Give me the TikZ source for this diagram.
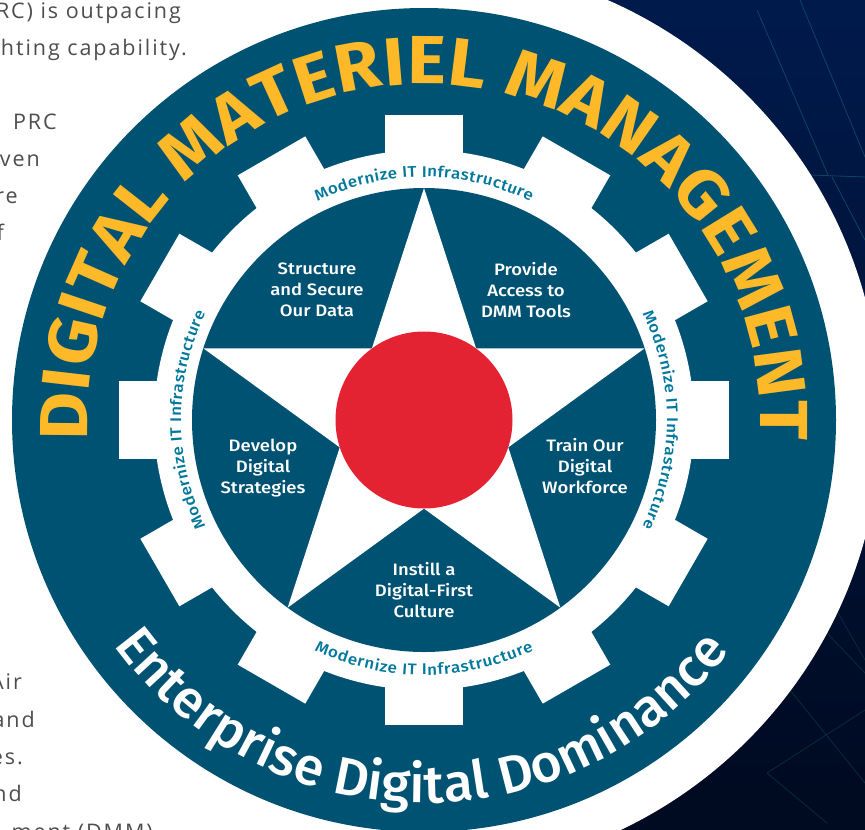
\documentclass[tikz,border=0pt]{standalone}
\usepackage{fontspec}
\usetikzlibrary{decorations.text}
\newfontfamily\bodyf[LetterSpace=9]{Open Sans}
\newfontfamily\ttlf[FakeStretch=1.08]{Fira Sans}
\newfontfamily\subf[FakeStretch=1.015]{Fira Sans Medium}
\newfontfamily\modf[FakeStretch=1.1]{Fira Sans Medium}
\newfontfamily\goalf[FakeStretch=1.12]{Fira Sans Medium}
\definecolor{dmmblue}{HTML}{005272}
\definecolor{dmmgold}{HTML}{FDB927}
\definecolor{dmmred}{HTML}{E32232}
\definecolor{dmmteal}{HTML}{00789C}
\definecolor{dmmgrey}{HTML}{4D4D4D}
\definecolor{navytop}{HTML}{001A4C}
\definecolor{navybot}{HTML}{000A20}
\definecolor{gridtop}{HTML}{0B4468}
\definecolor{gridbot}{HTML}{0A2A38}
\def\ttlstyle{\ttlf\bfseries\fontsize{68}{68}\selectfont\color{dmmgold}}
\def\substyle{\subf\fontsize{53}{53}\selectfont\color{white}}
\def\modstyle{\modf\fontsize{15.5}{15.5}\selectfont\color{dmmteal}}
\tikzset{
  x=1pt,y=1pt,
  bodytext/.style={anchor=base east,inner sep=0pt,text=dmmgrey,font=\bodyf\fontsize{21.5}{21.5}\selectfont},
  goal/.style={align=center,inner sep=0pt,text=white,font=\goalf\fontsize{16.5}{21}\selectfont},
  tooth/.style={fill=white},
}
\begin{document}
\begin{tikzpicture}
\useasboundingbox (0,0) rectangle (865,-830);
\clip (0,0) rectangle (865,-830);
% background
\shade[top color=navytop,bottom color=navybot] (430,0) rectangle (865,-830);
\draw[gridtop,line width=.8pt] (757,-10)--(828,-175) (832,-177)--(865,-240) (810,-175)--(865,-177) (800,0)--(865,-157);
\draw[gridbot,line width=.8pt] (767,-773)--(865,-710) (767,-773)--(827,-823) (827,-633)--(865,-673) (790,-690)--(865,-783) (838,-613)--(865,-660);
\fill[white] (425,-418) circle[radius=456];
% body copy
\node[bodytext] (t1) at (181,-18) {RC) is outpacing};
\node[bodytext] (t2) at (187,-55) {hting capability.};
\node[bodytext] (t3) at (57,-129) {PRC};
\node[bodytext] (t4) at (40,-166) {ven};
\node[bodytext] (t5) at (18,-203) {re};
\node[bodytext] (t6) at (4,-240) {f};
\node[bodytext] (t7) at (22,-689) {Air};
\node[bodytext] (t8) at (35,-727) {and};
\node[bodytext] (t9) at (23,-764) {es.};
\node[bodytext] (t10) at (22,-801) {nd};
\node[bodytext] (t11) at (153,-839) {ment (DMM)};
% disc and gear
\begin{scope}[shift={(424,-420)}]
\fill[dmmblue] (0,0) circle[radius=412];
\fill[white] (0,0) circle[radius=270];
\foreach \a in {0,30,...,330}
  \fill[tooth,rotate=\a] (-39,260) rectangle (39,305);
\fill[dmmblue] (0,0) circle[radius=232];
\fill[white] (90:232)--(54:88.6)--(18:232)--(-18:88.6)--(-54:232)--(-90:88.6)--(-126:232)--(-162:88.6)--(162:232)--(126:88.6)--cycle;
\fill[dmmred] (0,0) circle[radius=88.5];
% title arcs
\path[decorate,decoration={text along path,text align=fit to path,text={|\ttlstyle|DIGITAL MATERIEL MANAGEMENT}}]
  (183.5:336) arc[start angle=183.5,end angle=-3.5,radius=336];
\path[decorate,decoration={text along path,text align=fit to path,text={|\substyle|Enterprise Digital Dominance}}]
  (216:383) arc[start angle=216,end angle=322,radius=383];
% ring labels
\path[decorate,decoration={text along path,text align=fit to path,text={|\modstyle|Modernize IT Infrastructure}}]
  (116:243) arc[start angle=116,end angle=64,radius=243];
\path[decorate,decoration={text along path,text align=fit to path,text={|\modstyle|Modernize IT Infrastructure}}]
  (26:243) arc[start angle=26,end angle=-26,radius=243];
\path[decorate,decoration={text along path,text align=fit to path,text={|\modstyle|Modernize IT Infrastructure}}]
  (206:243) arc[start angle=206,end angle=154,radius=243];
\path[decorate,decoration={text along path,text align=fit to path,text={|\modstyle|Modernize IT Infrastructure}}]
  (244.5:255) arc[start angle=244.5,end angle=295.5,radius=255];
\end{scope}
% goals
\node[goal] (g1) at (317,-290) {Structure\\and Secure\\Our Data};
\node[goal] (g2) at (526,-290) {Provide\\Access to\\DMM Tools};
\node[goal] (g3) at (263,-468) {Develop\\Digital\\Strategies};
\node[goal] (g4) at (585,-466) {Train Our\\Digital\\Workforce};
\node[goal] (g5) at (424,-590) {Instill a\\Digital-First\\Culture};
\end{tikzpicture}
\end{document}
